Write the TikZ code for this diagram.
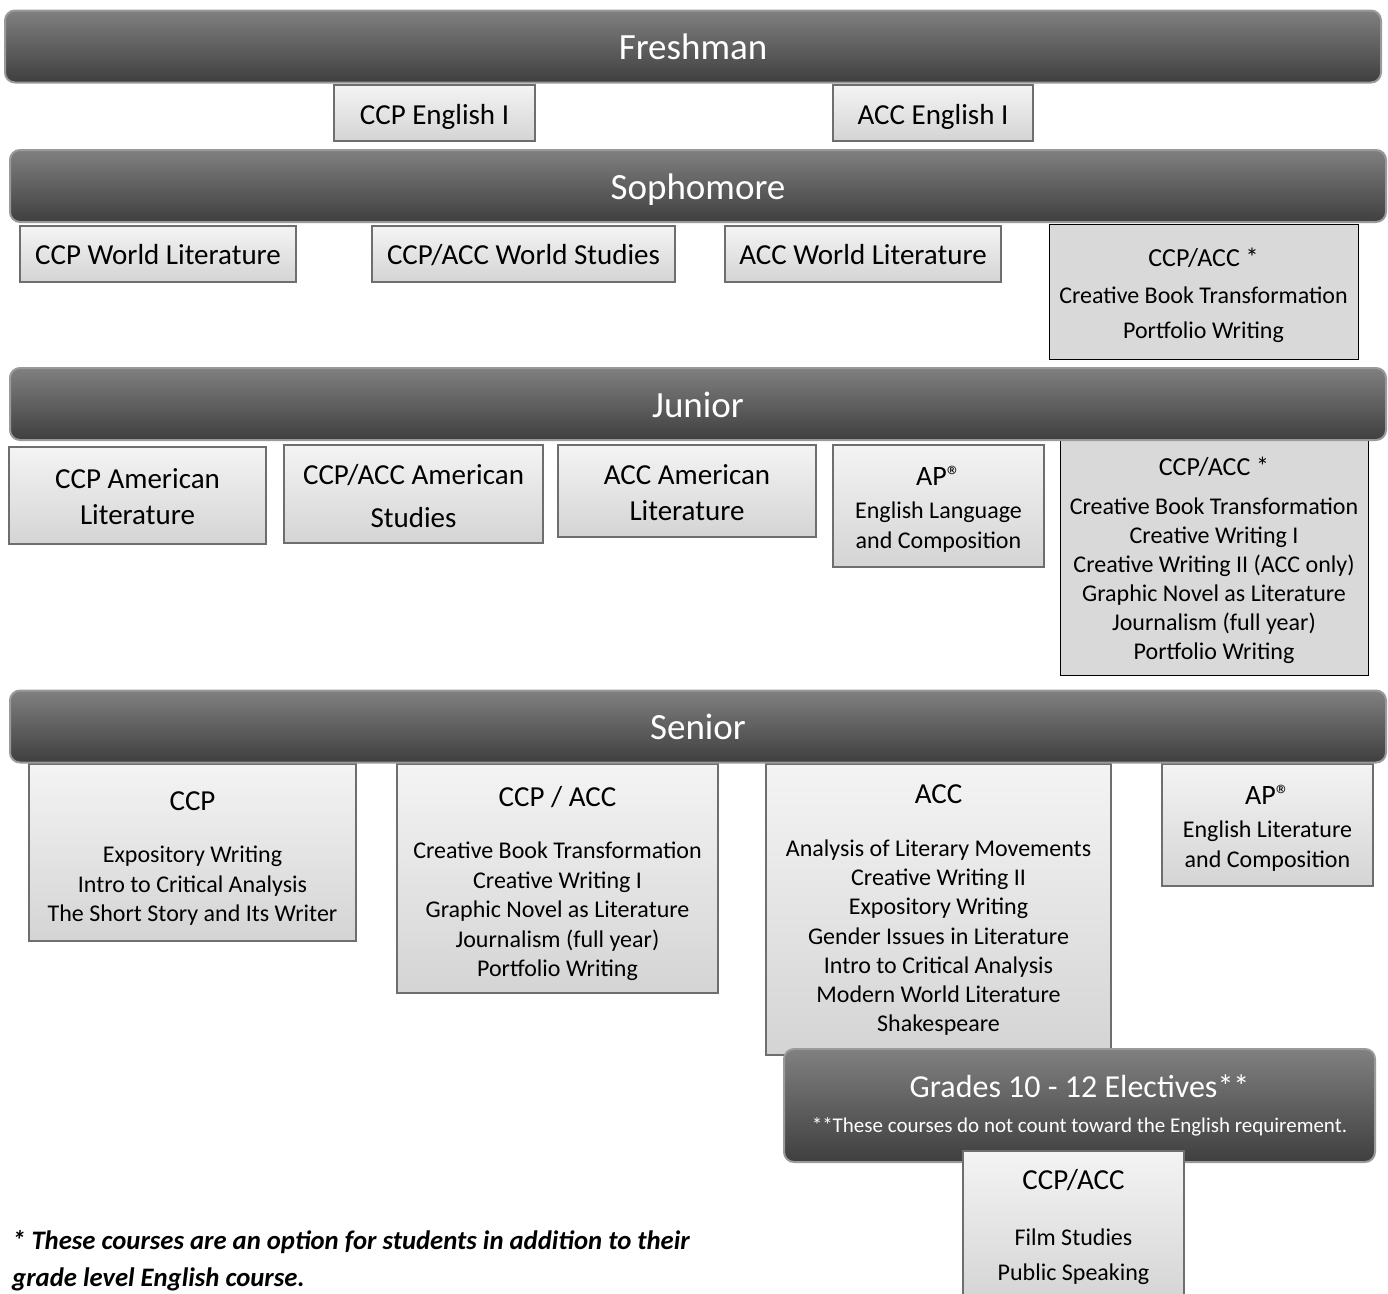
\documentclass[tikz,border=0pt]{standalone}
\usepackage{fontspec}
\setmainfont{Carlito}
\definecolor{bandtop}{HTML}{808080}
\definecolor{bandbot}{HTML}{3F3F3F}
\definecolor{bandline}{HTML}{9A9A9A}
\definecolor{boxtop}{HTML}{F4F4F4}
\definecolor{boxbot}{HTML}{D4D4D4}
\definecolor{boxline}{HTML}{6E6E6E}
\definecolor{starfill}{HTML}{D9D9D9}
% invisible strut to push a box's text down a little
\newcommand\padtop[1]{\rule{0pt}{#1pt}}
\tikzset{
  wh/.style 2 args={minimum width=#1pt, minimum height=#2pt},
  band/.style={draw=bandline, line width=2pt, rounded corners=10pt,
    top color=bandtop, bottom color=bandbot, text=white, inner sep=0pt,
    wh={1376}{72}, font=\fontsize{37}{44}\selectfont},
  course/.style={draw=boxline, line width=2.5pt, top color=boxtop,
    bottom color=boxbot, align=center, inner sep=0pt,
    font=\fontsize{29}{36}\selectfont},
  starbox/.style={draw=black, line width=1pt, fill=starfill, align=center,
    inner sep=0pt, font=\fontsize{24}{29}\selectfont},
}
\begin{document}
\begin{tikzpicture}[x=1pt,y=-1pt]
\useasboundingbox (0,0) rectangle (1388,1293);
\clip (0,0) rectangle (1388,1293);
% freshman
\node (fr1) at (434.5,113) [course, wh={201}{56}] {\padtop{28}CCP English I};
\node (fr2) at (933,113) [course, wh={200}{56}] {\padtop{28}ACC English I};
% sophomore
\node (so1) at (158,254) [course, wh={276}{56}] {\padtop{22}CCP World Literature};
\node (so2) at (523.5,254) [course, wh={303}{56}] {\padtop{22.5}CCP/ACC World Studies};
\node (so3) at (863,254) [course, wh={276}{56}] {\padtop{22}ACC World Literature};
\node (so4) at (1203.5,291.5) [starbox, wh={309}{135}, font=\fontsize{24}{35}\selectfont]
  {\padtop{26}{\fontsize{26}{26}\selectfont CCP/ACC *}\\[2pt]Creative Book Transformation\\Portfolio Writing};
% junior
\node (ju1) at (137.5,495.5) [course, wh={257}{97}] {\padtop{23}CCP American\\Literature};
\node (ju2) at (413.5,494) [course, wh={259}{98}] {\padtop{24.3}CCP/ACC American\\[7pt]Studies};
\node (ju3) at (687,491) [course, wh={258}{92}] {\padtop{23}ACC American\\Literature};
\node (ju4) at (938.5,506) [course, wh={211}{122}, font=\fontsize{24}{30}\selectfont]
  {\padtop{25}{\fontsize{28}{28}\selectfont AP®}\\[3pt]English Language\\and Composition};
\node (ju5) at (1214,557.5) [starbox, wh={308}{235}]
  {\padtop{24.2}{\fontsize{26}{26}\selectfont CCP/ACC *}\\[10pt]Creative Book Transformation\\Creative Writing I\\
   Creative Writing II (ACC only)\\Graphic Novel as Literature\\Journalism (full year)\\Portfolio Writing};
% senior
\node (se1) at (192.5,852.5) [course, wh={327}{177}, font=\fontsize{24}{29.3}\selectfont]
  {\padtop{30.7}{\fontsize{29}{29}\selectfont CCP}\\[23pt]Expository Writing\\Intro to Critical Analysis\\
   The Short Story and Its Writer};
\node (se2) at (557.5,878.5) [course, wh={321}{229}, font=\fontsize{24}{29.5}\selectfont]
  {\padtop{30.3}{\fontsize{29}{29}\selectfont CCP / ACC}\\[23pt]Creative Book Transformation\\Creative Writing I\\
   Graphic Novel as Literature\\Journalism (full year)\\Portfolio Writing};
\node (se3) at (938.5,909.5) [course, wh={345}{291}, font=\fontsize{24}{29.3}\selectfont]
  {\padtop{20.7}{\fontsize{29}{29}\selectfont ACC}\\[23pt]Analysis of Literary Movements\\Creative Writing II\\
   Expository Writing\\Gender Issues in Literature\\Intro to Critical Analysis\\
   Modern World Literature\\Shakespeare};
\node (se4) at (1267.5,825) [course, wh={211}{122}, font=\fontsize{24}{30}\selectfont]
  {\padtop{25.4}{\fontsize{28}{28}\selectfont AP®}\\[3pt]English Literature\\and Composition};
% grade banners go over the boxes
\foreach \n/\x/\y/\t in {fresh/693/46.5/Freshman, soph/698/186/Sophomore,
                         jun/698/404/Junior, sen/698/726.5/Senior}
  \node (\n) at (\x,\y) [band, text height=26pt, text depth=0pt] {\t};
\node (elec) at (1079.5,1105.5) [band, wh={591}{113}, align=center, font=\fontsize{32}{39}\selectfont]
  {Grades 10 - 12 Electives**\\[-4pt]{\fontsize{21}{21}\selectfont **These courses do not count toward the English requirement.}};
\node (el1) at (1073.5,1226.5) [course, wh={221}{151}, font=\fontsize{24}{35}\selectfont]
  {{\fontsize{29}{29}\selectfont CCP/ACC}\\[21pt]Film Studies\\Public Speaking};
% footnote
\node (note) at (12,1261) [anchor=west, align=left, inner sep=0pt,
  font=\bfseries\itshape\fontsize{26.7}{37}\selectfont]
  {* These courses are an option for students in addition to their\\grade level English course.};
\end{tikzpicture}
\end{document}
